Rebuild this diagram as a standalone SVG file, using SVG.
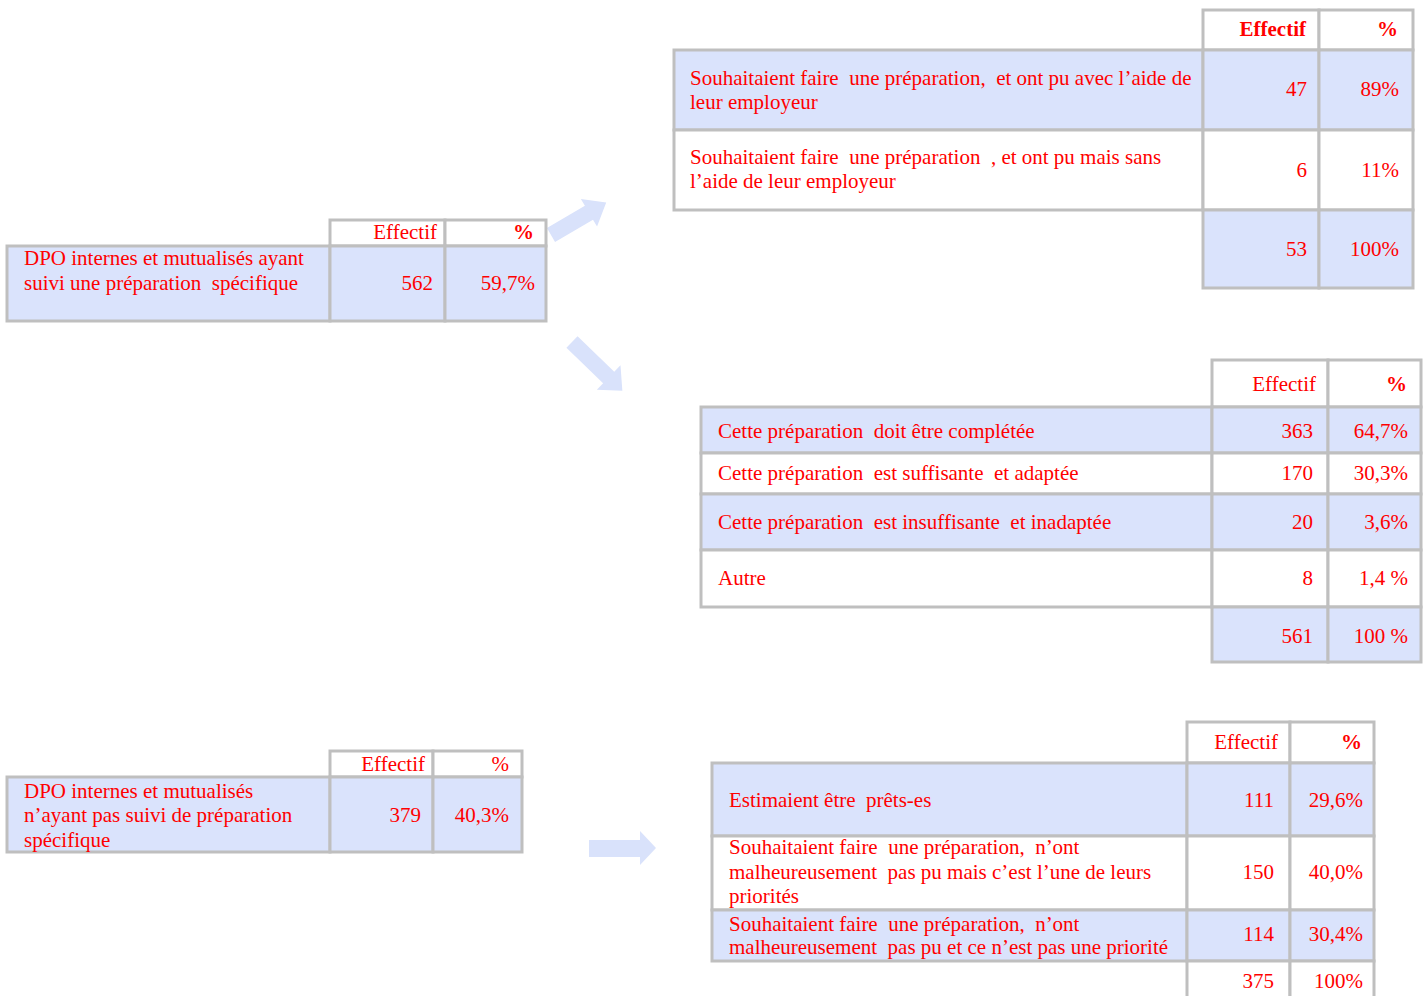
<svg xmlns="http://www.w3.org/2000/svg" width="1424" height="996" viewBox="0 0 1424 996" xml:space="preserve">
<style>
  .c { stroke: #bfbfbf; stroke-width: 3; }
  .f { fill: #dae3fc; }
  .w { fill: #ffffff; }
  text { font-family: "Liberation Serif", "Times New Roman", serif; font-size: 21px; fill: #ff0000; white-space: pre; }
  .r { text-anchor: end; }
  .b { font-weight: bold; }
  .arr { fill: #d9e2fb; }
</style>
<rect width="1424" height="996" fill="#ffffff"/>

<g id="connectors">
  <polygon class="arr" transform="translate(551,235) rotate(-30.4)" points="0,-8 44,-8 44,-16 64,0 44,16 44,8 0,8"/>
  <polygon class="arr" transform="translate(572,342) rotate(44)" points="0,-8 51,-8 51,-17 70,0 51,17 51,8 0,8"/>
  <polygon class="arr" points="589,840 640,840 640,831 656,848 640,865 640,857 589,857"/>
</g>

<g id="table-prep">
  <rect class="c w" x="330" y="220" width="115" height="26"/>
  <rect class="c w" x="445" y="220" width="101" height="26"/>
  <rect class="c f" x="7" y="246" width="323" height="75"/>
  <rect class="c f" x="330" y="246" width="115" height="75"/>
  <rect class="c f" x="445" y="246" width="101" height="75"/>
  <text class="r" x="437" y="239">Effectif</text>
  <text class="r b" x="534" y="239">%</text>
  <text x="24" y="265">DPO internes et mutualisés ayant</text>
  <text x="24" y="290">suivi une préparation  spécifique</text>
  <text class="r" x="433" y="290">562</text>
  <text class="r" x="535" y="290">59,7%</text>
</g>

<g id="table-employeur">
  <rect class="c w" x="1203" y="10" width="116" height="40"/>
  <rect class="c w" x="1319" y="10" width="94" height="40"/>
  <rect class="c f" x="674" y="50" width="529" height="80"/>
  <rect class="c f" x="1203" y="50" width="116" height="80"/>
  <rect class="c f" x="1319" y="50" width="94" height="80"/>
  <rect class="c w" x="674" y="130" width="529" height="80"/>
  <rect class="c w" x="1203" y="130" width="116" height="80"/>
  <rect class="c w" x="1319" y="130" width="94" height="80"/>
  <rect class="c f" x="1203" y="210" width="116" height="78"/>
  <rect class="c f" x="1319" y="210" width="94" height="78"/>
  <text class="r b" x="1306" y="36">Effectif</text>
  <text class="r b" x="1398" y="36">%</text>
  <text x="690" y="85">Souhaitaient faire  une préparation,  et ont pu avec l’aide de</text>
  <text x="690" y="109">leur employeur</text>
  <text class="r" x="1307" y="96">47</text>
  <text class="r" x="1399" y="96">89%</text>
  <text x="690" y="164">Souhaitaient faire  une préparation  , et ont pu mais sans</text>
  <text x="690" y="188">l’aide de leur employeur</text>
  <text class="r" x="1307" y="177">6</text>
  <text class="r" x="1399" y="177">11%</text>
  <text class="r" x="1307" y="256">53</text>
  <text class="r" x="1399" y="256">100%</text>
</g>

<g id="table-avis">
  <rect class="c w" x="1212" y="360" width="116" height="47"/>
  <rect class="c w" x="1328" y="360" width="93" height="47"/>
  <rect class="c f" x="701" y="407" width="511" height="46"/>
  <rect class="c f" x="1212" y="407" width="116" height="46"/>
  <rect class="c f" x="1328" y="407" width="93" height="46"/>
  <rect class="c w" x="701" y="453" width="511" height="41"/>
  <rect class="c w" x="1212" y="453" width="116" height="41"/>
  <rect class="c w" x="1328" y="453" width="93" height="41"/>
  <rect class="c f" x="701" y="494" width="511" height="56"/>
  <rect class="c f" x="1212" y="494" width="116" height="56"/>
  <rect class="c f" x="1328" y="494" width="93" height="56"/>
  <rect class="c w" x="701" y="550" width="511" height="57"/>
  <rect class="c w" x="1212" y="550" width="116" height="57"/>
  <rect class="c w" x="1328" y="550" width="93" height="57"/>
  <rect class="c f" x="1212" y="607" width="116" height="55"/>
  <rect class="c f" x="1328" y="607" width="93" height="55"/>
  <text class="r" x="1316" y="391">Effectif</text>
  <text class="r b" x="1407" y="391">%</text>
  <text x="718" y="438">Cette préparation  doit être complétée</text>
  <text class="r" x="1313" y="438">363</text>
  <text class="r" x="1408" y="438">64,7%</text>
  <text x="718" y="480">Cette préparation  est suffisante  et adaptée</text>
  <text class="r" x="1313" y="480">170</text>
  <text class="r" x="1408" y="480">30,3%</text>
  <text x="718" y="529">Cette préparation  est insuffisante  et inadaptée</text>
  <text class="r" x="1313" y="529">20</text>
  <text class="r" x="1408" y="529">3,6%</text>
  <text x="718" y="585">Autre</text>
  <text class="r" x="1313" y="585">8</text>
  <text class="r" x="1408" y="585">1,4 %</text>
  <text class="r" x="1313" y="643">561</text>
  <text class="r" x="1408" y="643">100 %</text>
</g>

<g id="table-sans-prep">
  <rect class="c w" x="330" y="751" width="103" height="26"/>
  <rect class="c w" x="433" y="751" width="89" height="26"/>
  <rect class="c f" x="7" y="777" width="323" height="75"/>
  <rect class="c f" x="330" y="777" width="103" height="75"/>
  <rect class="c f" x="433" y="777" width="89" height="75"/>
  <text class="r" x="425" y="771">Effectif</text>
  <text class="r" x="509" y="771">%</text>
  <text x="24" y="798">DPO internes et mutualisés</text>
  <text x="24" y="822">n’ayant pas suivi de préparation</text>
  <text x="24" y="847">spécifique</text>
  <text class="r" x="421" y="822">379</text>
  <text class="r" x="509" y="822">40,3%</text>
</g>

<g id="table-souhaits">
  <rect class="c w" x="1187" y="722" width="103" height="41"/>
  <rect class="c w" x="1290" y="722" width="84" height="41"/>
  <rect class="c f" x="712" y="763" width="475" height="73"/>
  <rect class="c f" x="1187" y="763" width="103" height="73"/>
  <rect class="c f" x="1290" y="763" width="84" height="73"/>
  <rect class="c w" x="712" y="836" width="475" height="74"/>
  <rect class="c w" x="1187" y="836" width="103" height="74"/>
  <rect class="c w" x="1290" y="836" width="84" height="74"/>
  <rect class="c f" x="712" y="910" width="475" height="51"/>
  <rect class="c f" x="1187" y="910" width="103" height="51"/>
  <rect class="c f" x="1290" y="910" width="84" height="51"/>
  <rect class="c w" x="1187" y="961" width="103" height="40"/>
  <rect class="c w" x="1290" y="961" width="84" height="40"/>
  <text class="r" x="1278" y="749">Effectif</text>
  <text class="r b" x="1362" y="749">%</text>
  <text x="729" y="807">Estimaient être  prêts-es</text>
  <text class="r" x="1274" y="807">111</text>
  <text class="r" x="1363" y="807">29,6%</text>
  <text x="729" y="854">Souhaitaient faire  une préparation,  n’ont</text>
  <text x="729" y="879">malheureusement  pas pu mais c’est l’une de leurs</text>
  <text x="729" y="903">priorités</text>
  <text class="r" x="1274" y="879">150</text>
  <text class="r" x="1363" y="879">40,0%</text>
  <text x="729" y="931">Souhaitaient faire  une préparation,  n’ont</text>
  <text x="729" y="954">malheureusement  pas pu et ce n’est pas une priorité</text>
  <text class="r" x="1274" y="941">114</text>
  <text class="r" x="1363" y="941">30,4%</text>
  <text class="r" x="1274" y="988">375</text>
  <text class="r" x="1363" y="988">100%</text>
</g>
</svg>
